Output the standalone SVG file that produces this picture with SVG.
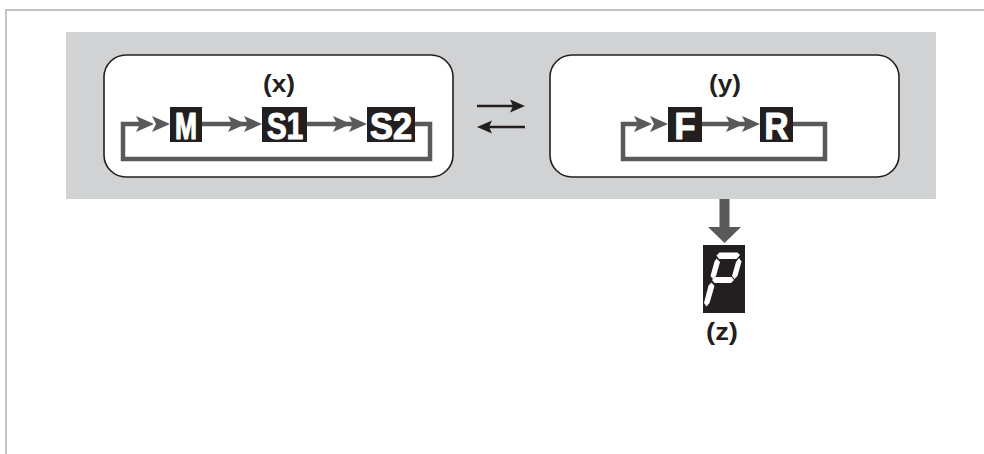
<svg xmlns="http://www.w3.org/2000/svg" width="984" height="454" viewBox="0 0 984 454">
  <defs>
    <style>
      .frame{fill:none;stroke:#c4c4c4;stroke-width:2}
      .panel{fill:#d1d2d4}
      .card{fill:#ffffff;stroke:#231f20;stroke-width:1.6}
      .loop{fill:none;stroke:#58595b;stroke-width:4.5;stroke-linejoin:miter}
      .head{fill:#58595b}
      .box{fill:#231f20}
      .blbl{font-family:"Liberation Sans",Arial,sans-serif;font-weight:bold;fill:#ffffff;stroke:#ffffff;stroke-width:1.2;stroke-linejoin:round;text-anchor:middle;font-size:36px}
      .lbl{font-family:"Liberation Sans",Arial,sans-serif;font-weight:bold;fill:#231f20;text-anchor:middle;font-size:24px}
      .eq{fill:none;stroke:#231f20;stroke-width:2.4}
      .eqh{fill:#231f20}
      .seg{fill:#ffffff}
    </style>
  </defs>

  <path class="frame" d="M6,454 V10 H984"/>
  <rect class="panel" x="66" y="32" width="870" height="167"/>

  <g id="panel-x">
    <rect class="card" x="104" y="55" width="349" height="122" rx="22" ry="22"/>
    <text class="lbl" x="279" y="92" textLength="32" lengthAdjust="spacingAndGlyphs">(x)</text>
  </g>
  <g id="panel-y">
    <rect class="card" x="550" y="55" width="349" height="122" rx="22" ry="22"/>
    <text class="lbl" x="725" y="92" textLength="32" lengthAdjust="spacingAndGlyphs">(y)</text>
  </g>

  <g id="connectors">
    <!-- x loop -->
    <path class="loop" d="M140,124 H123 V159 H430 V124 H415"/>
    <path class="loop" d="M202,124 H250"/>
    <path class="loop" d="M307,124 H355"/>
    <path class="head" d="M136,116 L154,124 L136,132 L140,124 Z M152,116 L170,124 L152,132 L156,124 Z"/>
    <path class="head" d="M228,116 L246,124 L228,132 L232,124 Z M244,116 L262,124 L244,132 L248,124 Z"/>
    <path class="head" d="M333,116 L351,124 L333,132 L337,124 Z M349,116 L367,124 L349,132 L353,124 Z"/>
    <!-- y loop -->
    <path class="loop" d="M638,124 H623 V159 H825 V124 H793"/>
    <path class="loop" d="M702,124 H748"/>
    <path class="head" d="M634,116 L652,124 L634,132 L638,124 Z M650,116 L668,124 L650,132 L654,124 Z"/>
    <path class="head" d="M726,116 L744,124 L726,132 L730,124 Z M742,116 L760,124 L742,132 L746,124 Z"/>
    <!-- equilibrium arrows -->
    <path class="eq" d="M477,106 H516"/>
    <path class="eqh" d="M510,99.5 L525,106 L510,112.5 L513,106 Z"/>
    <path class="eq" d="M525,127 H486"/>
    <path class="eqh" d="M492,120.5 L477,127 L492,133.5 L489,127 Z"/>
    <!-- down arrow -->
    <rect class="head" x="719.5" y="199" width="10" height="29"/>
    <path class="head" d="M708,227 L741,227 L724.5,243 Z"/>
  </g>

  <g id="node-M">
    <rect class="box" x="170" y="107" width="32" height="35"/>
    <text class="blbl" x="186" y="138.5" textLength="22" lengthAdjust="spacingAndGlyphs">M</text>
  </g>
  <g id="node-S1">
    <rect class="box" x="262" y="107" width="45" height="35"/>
    <text class="blbl" x="285" y="138.5" textLength="36" lengthAdjust="spacingAndGlyphs">S1</text>
  </g>
  <g id="node-S2">
    <rect class="box" x="367" y="107" width="48" height="35"/>
    <text class="blbl" x="391" y="138.5" textLength="42" lengthAdjust="spacingAndGlyphs">S2</text>
  </g>
  <g id="node-F">
    <rect class="box" x="668" y="107" width="34" height="35"/>
    <text class="blbl" x="685" y="138.5" textLength="21" lengthAdjust="spacingAndGlyphs">F</text>
  </g>
  <g id="node-R">
    <rect class="box" x="760" y="107" width="33" height="35"/>
    <text class="blbl" x="776.5" y="138.5" textLength="24" lengthAdjust="spacingAndGlyphs">R</text>
  </g>

  <g id="node-z">
    <rect class="box" x="703" y="245" width="42" height="68"/>
    <polygon class="seg" points="716.5,255.5 719.5,252.5 737.5,252.5 740,255 736.5,259 719,259"/>
    <polygon class="seg" points="716.5,258.5 720,262 716,276 713,279 710.5,276 714.5,261.5"/>
    <polygon class="seg" points="739,258 741.5,261.5 737.5,276 734.5,279 732,276 736,262"/>
    <polygon class="seg" points="712,280 715,277 731.5,277 734,280 731,283 714.5,283"/>
    <polygon class="seg" points="711.5,282.5 714.5,286 709.5,303 706.5,306.5 704,303 708.5,285.5"/>
    <text class="lbl" x="722" y="340" textLength="32" lengthAdjust="spacingAndGlyphs">(z)</text>
  </g>
</svg>
